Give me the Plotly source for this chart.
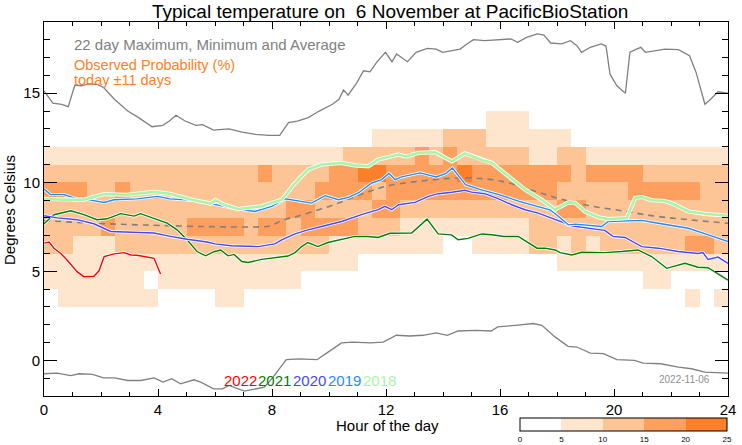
import plotly.graph_objects as go

# ---------------- data ----------------
hours_cols = [0.25 + 0.5 * c for c in range(48)]
temp_rows = [3.5, 4.5, 5.5, 6.5, 7.5, 8.5, 9.5, 10.5, 11.5, 12.5, 13.5]
# probability class per cell (0:<5%, 1:5-10, 2:10-15, 3:15-20, 4:20-25), rows 3..13 degC
prob_class_rows = [
    "011111110000110000000000000000000000000000000101",
    "111111101111111111000000000000000000000000110000",
    "111111111111111111111100000000000000111111111111",
    "221112222222222222221111111100111122121222222332",
    "222232222233332332333322211111111122222222222222",
    "222222222222222223322223322222222222332222222222",
    "333223222222222222233332333333333333222223333322",
    "222222222222222322223344333334333333323333222222",
    "111111111111111111111222223232222211221111111111",
    "000000000000000000000001111122211111100000000000",
    "000000000000000000000000000000011100000000000000",
]
class_pct = [2.5, 7.5, 12.5, 17.5, 22.5]

max_h = [0, 0.31, 0.62, 0.85, 1.08, 1.31, 1.55, 1.86, 2.09, 2.47, 2.94, 3.32, 3.79, 4.17, 4.4, 4.63, 4.95, 5.33, 5.56, 5.95, 6.49, 6.95, 7.42, 7.88, 8.27, 8.58, 8.89, 9.27, 9.66, 10.12, 10.35, 10.51, 10.67, 10.98, 11.21, 11.44, 11.67, 11.98, 12.21, 12.37, 12.75, 13.06, 13.45, 13.76, 13.99, 14.38, 14.6, 14.84, 15.07, 15.46, 16.07, 16.38, 16.62, 16.93, 17.31, 17.54, 17.78, 18.16, 18.47, 18.7, 18.86, 19.17, 19.55, 19.72, 19.86, 20.1, 20.4, 20.56, 20.79, 20.94, 21.1, 21.44, 21.79, 22.26, 22.65, 22.88, 23.19, 23.39, 23.65, 24]
max_t = [15.13, 14.44, 14.38, 14.25, 15.45, 15.42, 15.52, 15.5, 15.32, 14.66, 14.0, 13.63, 13.12, 13.2, 13.44, 13.76, 13.44, 13.2, 13.24, 12.93, 13.0, 12.82, 12.69, 12.63, 12.63, 13.35, 13.44, 13.63, 14.0, 14.38, 14.66, 15.19, 14.89, 15.6, 16.26, 16.2, 16.73, 17.3, 16.77, 17.2, 16.77, 17.3, 17.52, 17.48, 17.3, 17.39, 17.48, 17.77, 18.01, 17.95, 18.01, 18.05, 17.86, 18.14, 18.33, 18.27, 17.82, 17.77, 17.95, 17.67, 17.3, 17.58, 17.77, 17.65, 16.07, 15.42, 15.0, 17.3, 17.48, 17.58, 17.3, 17.39, 17.48, 17.45, 17.11, 16.17, 14.38, 14.66, 15.08, 15.0]

min_h = [0, 0.46, 0.93, 1.24, 1.7, 2.09, 2.47, 2.94, 3.4, 3.86, 4.18, 4.48, 4.79, 5.26, 5.5, 5.95, 6.26, 6.49, 7.03, 7.5, 7.73, 8.04, 8.5, 8.96, 9.58, 9.89, 10.44, 10.83, 11.44, 11.9, 12.37, 12.83, 13.3, 13.76, 14.15, 14.53, 15.14, 15.69, 15.92, 16.54, 17.16, 17.47, 17.93, 18.39, 18.7, 19.17, 19.63, 20.1, 20.72, 21.02, 21.64, 22.26, 22.72, 23.19, 24]
min_t = [-0.75, -0.71, -0.85, -0.75, -0.79, -0.98, -0.98, -1.13, -1.13, -0.98, -1.22, -1.03, -1.32, -1.09, -1.22, -1.6, -1.6, -1.41, -1.73, -1.6, -1.5, -0.94, 0.04, 0.09, 0.04, 0.38, 0.98, 1.03, 0.98, 1.03, 1.41, 1.37, 1.41, 1.54, 1.41, 1.65, 1.69, 1.65, 1.88, 1.97, 2.07, 1.97, 1.32, 0.79, 0.75, 0.41, 0.38, 0.04, 0.0, -0.15, -0.19, -0.38, -0.47, -0.66, -0.71]

avg_h = [0, 1.75, 3.51, 6.14, 7.58, 7.93, 8.34, 8.91, 10.1, 11.26, 12.07, 13.72, 14.88, 16.07, 17.23, 18.04, 19.09, 20.28, 21.44, 22.6, 24]
avg_t = [7.85, 7.7, 7.6, 7.5, 7.5, 7.55, 7.85, 8.1, 8.7, 9.4, 9.8, 10.15, 10.25, 10.05, 9.5, 9.1, 8.7, 8.4, 8.1, 7.9, 7.7]

y2022_h = [0, 0.18, 0.35, 0.59, 0.81, 1.16, 1.40, 1.75, 1.93, 2.11, 2.46, 2.81, 3.05, 3.26, 3.51, 3.86, 4.09]
y2022_t = [6.58, 6.65, 6.3, 6.0, 5.64, 4.98, 4.7, 4.72, 5.03, 5.83, 5.98, 6.05, 5.92, 5.9, 5.83, 5.73, 4.85]

y2021_h = [0, 0.35, 0.94, 1.40, 1.86, 2.21, 2.69, 3.16, 3.39, 3.86, 4.32, 4.67, 5.02, 5.37, 5.67, 5.96, 6.2, 6.46, 6.67, 6.94, 7.16, 7.64, 8.11, 8.56, 8.81, 9.04, 9.26, 9.61, 9.96, 10.44, 10.91, 11.37, 11.72, 12.14, 12.63, 12.9, 13.44, 13.83, 14.3, 14.53, 14.88, 15.36, 15.71, 16.14, 16.64, 17.3, 17.58, 17.93, 18.11, 18.52, 18.87, 19.68, 20.27, 20.84, 21.32, 21.85, 22.49, 22.95, 23.3, 24]
y2021_t = [7.67, 8.18, 8.4, 8.18, 7.9, 7.95, 8.24, 8.1, 8.24, 7.99, 7.71, 7.33, 6.77, 6.11, 5.87, 6.1, 6.2, 5.87, 5.95, 5.55, 5.5, 5.67, 5.77, 5.86, 6.05, 6.39, 6.62, 6.39, 6.62, 6.8, 6.96, 6.96, 6.9, 7.14, 7.12, 7.15, 7.93, 7.1, 7.05, 6.77, 6.85, 7.1, 7.05, 6.96, 6.96, 6.3, 6.3, 6.2, 6.05, 5.92, 6.07, 6.05, 6.11, 6.2, 5.83, 5.17, 5.45, 5.23, 5.2, 4.51]

y2020_h = [0, 0.47, 1.16, 1.75, 2.34, 3.26, 3.86, 4.44, 5.02, 5.72, 6.0, 6.58, 7.51, 8.1, 8.34, 8.81, 9.26, 9.74, 10.44, 11.14, 11.73, 11.96, 12.2, 12.44, 13.02, 13.49, 13.83, 14.31, 14.77, 15.0, 15.47, 15.93, 16.41, 16.88, 17.34, 17.81, 18.52, 19.33, 19.68, 19.96, 20.39, 20.97, 21.55, 22.25, 22.95, 23.12, 23.3, 23.65, 24]
y2020_t = [8.12, 8.0, 7.9, 7.67, 7.24, 7.2, 7.15, 6.96, 6.8, 6.65, 6.54, 6.44, 6.39, 6.54, 6.77, 7.1, 7.33, 7.52, 7.8, 8.18, 8.46, 8.65, 8.46, 8.74, 8.87, 9.21, 9.36, 9.44, 9.55, 9.45, 9.36, 9.08, 8.74, 8.46, 8.27, 7.99, 7.56, 7.37, 7.3, 6.96, 6.9, 6.39, 6.3, 6.11, 6.0, 6.05, 5.67, 5.8, 5.45]

y2019_h = [0, 0.23, 0.7, 1.16, 1.64, 2.11, 2.46, 3.26, 3.98, 4.42, 5.38, 6.14, 6.59, 7.4, 7.99, 8.46, 8.92, 9.39, 9.86, 10.33, 10.68, 11.03, 11.5, 11.85, 12.1, 12.32, 12.55, 13.2, 13.76, 14.11, 14.33, 14.56, 14.79, 15.26, 15.96, 16.67, 17.37, 17.75, 17.93, 18.11, 18.4, 18.64, 19.57, 19.8, 20.27, 20.97, 21.55, 22.61, 23.31, 24]
y2019_t = [9.62, 9.31, 9.31, 9.07, 9.0, 8.87, 9.02, 9.07, 9.21, 9.07, 8.97, 8.69, 8.55, 8.36, 8.65, 9.07, 8.95, 8.83, 9.25, 9.02, 9.15, 9.4, 9.96, 10.15, 10.5, 10.15, 10.3, 10.53, 10.3, 10.5, 10.8, 10.3, 9.87, 9.62, 9.31, 8.93, 8.6, 8.45, 8.25, 8.0, 7.61, 7.65, 7.52, 7.8, 7.82, 7.86, 7.7, 7.42, 7.05, 6.67]

y2018_h = [0, 0.7, 1.4, 2.11, 2.93, 3.86, 4.42, 5.15, 5.85, 6.02, 6.3, 6.8, 7.64, 8.34, 8.81, 9.27, 9.74, 10.44, 10.91, 11.38, 11.73, 12.14, 12.43, 12.7, 13.13, 13.72, 14.31, 14.77, 15.36, 15.71, 16.29, 16.88, 17.46, 17.93, 18.4, 18.64, 18.98, 19.45, 19.8, 20.45, 20.74, 20.97, 21.32, 21.79, 22.14, 22.61, 23.19, 24]
y2018_t = [9.07, 9.02, 9.02, 9.34, 9.3, 9.46, 9.35, 9.03, 8.8, 9.0, 8.75, 8.5, 8.65, 9.02, 9.96, 10.72, 11.0, 11.09, 10.95, 10.9, 11.28, 11.43, 11.56, 11.45, 11.65, 11.69, 11.18, 11.62, 11.25, 11.09, 10.34, 9.59, 9.02, 8.46, 8.87, 8.85, 8.36, 8.04, 7.93, 7.99, 9.12, 9.17, 8.99, 8.95, 8.74, 8.36, 8.23, 8.12]

years = ["2022", "2021", "2020", "2019", "2018"]
year_colors = ["#FF0000", "#007F00", "#4646FF", "#1E8CFF", "#A8F5A8"]
year_h = [y2022_h, y2021_h, y2020_h, y2019_h, y2018_h]
year_t = [y2022_t, y2021_t, y2020_t, y2019_t, y2018_t]

x_ticks = [0, 4, 8, 12, 16, 20, 24]
y_ticks = [0, 5, 10, 15]
cbar_ticks = [0, 5, 10, 15, 20, 25]

# ---------------- figure ----------------
FONT = "Liberation Sans, Arial, Helvetica, sans-serif"
W, H = 742, 445
L, R, T, B = 44, 14, 22, 49
PW, PH = W - L - R, H - T - B


def px(x):
    return (x - L) / PW


def py(y):
    return (H - B - y) / PH


c_light, c_med, c_dark, c_darkest = "#FEE6CE", "#FDC496", "#FDA05F", "#FC7F2C"
cscale = [[0, "#FFFFFF"], [0.2, "#FFFFFF"], [0.2, c_light], [0.4, c_light],
          [0.4, c_med], [0.6, c_med], [0.6, c_dark], [0.8, c_dark],
          [0.8, c_darkest], [1.0, c_darkest]]

z = [[class_pct[int(ch)] for ch in row] for row in prob_class_rows]

fig = go.Figure()
fig.add_trace(go.Heatmap(
    x=hours_cols, y=temp_rows, z=z, zmin=0, zmax=25, colorscale=cscale,
    hoverinfo="skip",
    colorbar=dict(orientation="h", x=px(520), xanchor="left", y=py(418), yanchor="top",
                  len=207 / PW, lenmode="fraction", thickness=13, thicknessmode="pixels",
                  xpad=0, ypad=0, outlinewidth=1, outlinecolor="black",
                  tickvals=cbar_ticks, ticks="", ticklen=0,
                  tickfont=dict(size=8, color="black", family=FONT)),
))

fig.add_trace(go.Scatter(x=max_h, y=max_t, mode="lines", line=dict(color="#808080", width=1.3)))
fig.add_trace(go.Scatter(x=min_h, y=min_t, mode="lines", line=dict(color="#808080", width=1.3)))
fig.add_trace(go.Scatter(x=avg_h, y=avg_t, mode="lines",
                         line=dict(color="#808080", width=1.6, dash="6px,5px", shape="spline")))

for yr, col, hh, tt in zip(years, year_colors, year_h, year_t):
    w = 2.6 if yr == "2018" else 1.4
    fig.add_trace(go.Scatter(x=hh, y=tt, mode="lines", line=dict(color="white", width=w + 1.6)))
    fig.add_trace(go.Scatter(x=hh, y=tt, mode="lines", line=dict(color=col, width=w)))

ann = []
ann.append(dict(text="Typical temperature on \u00a06 November at PacificBioStation",
                x=px(390), y=py(11), xanchor="center", yanchor="middle",
                font=dict(size=19, color="black")))
ann.append(dict(text="22 day Maximum, Minimum and Average", x=px(72), y=py(44),
                xanchor="left", yanchor="middle", font=dict(size=15, color="#808080")))
ann.append(dict(text="Observed Probability (%)", x=px(72), y=py(64.5),
                xanchor="left", yanchor="middle", font=dict(size=14.5, color="#FF7F27")))
ann.append(dict(text="today \u00b111 days", x=px(72), y=py(80),
                xanchor="left", yanchor="middle", font=dict(size=14.5, color="#FF7F27")))
year_x = [222, 256, 291, 326, 361]
for yr, col, xx in zip(years, year_colors, year_x):
    ann.append(dict(text=yr, x=px(xx), y=py(380), xanchor="left", yanchor="middle",
                    font=dict(size=15, color=col)))
ann.append(dict(text="2022-11-06", x=px(712), y=py(379), xanchor="right", yanchor="middle",
                font=dict(size=10, color="#909090")))
ann.append(dict(text="Hour of the day", x=px(387), y=py(425), xanchor="center", yanchor="middle",
                font=dict(size=15, color="black")))
ann.append(dict(text="Degrees Celsius", x=px(9), y=py(210), xanchor="center", yanchor="middle",
                textangle=-90, font=dict(size=15, color="black")))
for a in ann:
    a.update(xref="paper", yref="paper", showarrow=False)

axis_common = dict(showgrid=False, zeroline=False, showline=True, linecolor="black",
                   linewidth=1, mirror="allticks", ticks="inside", tickcolor="black",
                   tickfont=dict(size=15, color="black", family=FONT))

fig.update_layout(
    width=W, height=H, margin=dict(l=L, r=R, t=T, b=B, pad=0, autoexpand=False),
    paper_bgcolor="white", plot_bgcolor="white", showlegend=False,
    font=dict(family=FONT, color="black"),
    annotations=ann,
    xaxis=dict(range=[0, 24], tickvals=x_ticks, ticklen=7,
               minor=dict(dtick=1, tick0=0, ticklen=4, ticks="inside", tickcolor="black", showgrid=False),
               **axis_common),
    yaxis=dict(range=[-2, 19], tickvals=y_ticks, ticklen=13,
               minor=dict(dtick=1, tick0=0, ticklen=6, ticks="inside", tickcolor="black", showgrid=False),
               **axis_common),
)

fig.write_html("out.html")
